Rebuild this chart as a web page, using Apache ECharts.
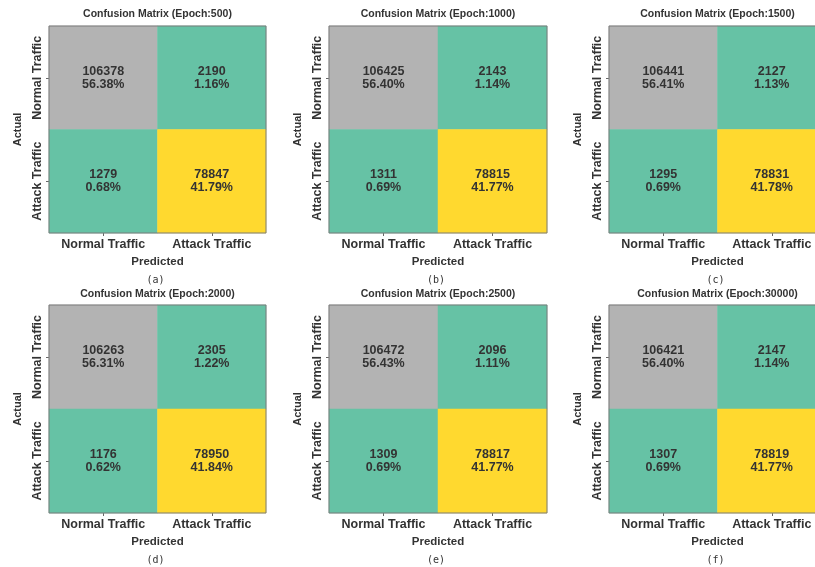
<!DOCTYPE html>
<html>
<head>
<meta charset="utf-8">
<title>Confusion Matrices by Epoch</title>
<script src="https://cdn.jsdelivr.net/npm/echarts@6/dist/echarts.min.js"></script>
<style>
  html, body { margin: 0; padding: 0; background: #ffffff; }
  #chart { width: 815px; height: 567px; }
</style>
</head>
<body>
<div id="chart"></div>
<script>
// Class labels shared by both axes
const classes = ['Normal Traffic', 'Attack Traffic'];

// Training epochs and subplot tags
const epochs = [500, 1000, 1500, 2000, 2500, 30000];
const panelTags = ['(a)', '(b)', '(c)', '(d)', '(e)', '(f)'];

// Confusion counts per epoch: [Normal->Normal, Normal->Attack, Attack->Normal, Attack->Attack]
const cm500   = [106378, 2190, 1279, 78847];
const cm1000  = [106425, 2143, 1311, 78815];
const cm1500  = [106441, 2127, 1295, 78831];
const cm2000  = [106263, 2305, 1176, 78950];
const cm2500  = [106472, 2096, 1309, 78817];
const cm30000 = [106421, 2147, 1307, 78819];
const matrices = [cm500, cm1000, cm1500, cm2000, cm2500, cm30000];

// Set2 qualitative palette (8 bins)
const set2 = ['#66c2a5', '#fc8d62', '#8da0cb', '#e78ac3', '#a6d854', '#ffd92f', '#e5c494', '#b3b3b3'];

// Panel placement
const colLeft = [49, 329, 609];
const colWidth = [217, 218, 217];
const rowTop = [26, 305];
const rowHeight = [207, 208];
const titleTop = [9, 289];
const tagTop = [275, 555];

const FONT = '"Liberation Sans", Arial, Helvetica, sans-serif';
const TEXT = '#333333';

function cellColor(v, lo, hi) {
  const t = (v - lo) / (hi - lo);
  const idx = Math.min(set2.length - 1, Math.floor(t * set2.length));
  return set2[idx];
}

const grid = [], xAxis = [], yAxis = [], series = [], title = [];

matrices.forEach((m, i) => {
  const r = Math.floor(i / 3), c = i % 3;
  const total = m.reduce((a, b) => a + b, 0);
  const lo = Math.min(...m), hi = Math.max(...m);
  const cx = colLeft[c] + colWidth[c] / 2;

  grid.push({
    left: colLeft[c], top: rowTop[r], width: colWidth[c], height: rowHeight[r],
    containLabel: false, outerBoundsMode: 'none',
    show: true, z: 10, backgroundColor: 'transparent',
    borderColor: '#7a7a7a', borderWidth: 1
  });

  xAxis.push({
    type: 'category', gridIndex: i, data: classes,
    name: 'Predicted', nameLocation: 'middle', nameGap: 23,
    nameTextStyle: { fontFamily: FONT, fontWeight: 'bold', fontSize: 11.5, color: TEXT },
    axisLine: { show: false },
    axisTick: { show: true, alignWithLabel: true, length: 3, lineStyle: { color: '#666' } },
    axisLabel: { interval: 0, hideOverlap: false, fontFamily: FONT, fontWeight: 'bold', fontSize: 12.5, color: TEXT, margin: 5 },
    splitLine: { show: false }
  });

  yAxis.push({
    type: 'category', gridIndex: i, data: classes, inverse: true,
    name: 'Actual', nameLocation: 'middle', nameGap: 26,
    nameTextStyle: { fontFamily: FONT, fontWeight: 'bold', fontSize: 11, color: TEXT },
    axisLine: { show: false },
    axisTick: { show: true, alignWithLabel: true, length: 3, lineStyle: { color: '#666' } },
    axisLabel: { interval: 0, hideOverlap: false, fontFamily: FONT, fontWeight: 'bold', fontSize: 12.5, color: TEXT, rotate: 90, margin: 5 },
    splitLine: { show: false }
  });

  const data = [];
  m.forEach((v, k) => {
    const x = k % 2, y = Math.floor(k / 2);
    data.push({
      value: [x, y, v],
      itemStyle: { color: cellColor(v, lo, hi) }
    });
  });

  series.push({
    type: 'heatmap', xAxisIndex: i, yAxisIndex: i, data: data,
    label: {
      show: true, fontFamily: FONT, fontWeight: 'bold', fontSize: 12.5,
      lineHeight: 13, color: TEXT,
      formatter: p => p.value[2] + '\n' + (p.value[2] / total * 100).toFixed(2) + '%'
    },
    emphasis: { disabled: true }
  });

  title.push({
    text: 'Confusion Matrix (Epoch:' + epochs[i] + ')',
    left: cx, top: titleTop[r], textAlign: 'center', padding: 0,
    textStyle: { fontFamily: FONT, fontWeight: 'bold', fontSize: 10.5, color: TEXT }
  });
  title.push({
    text: panelTags[i],
    left: cx - 2, top: tagTop[r], textAlign: 'center', padding: 0,
    textStyle: { fontFamily: '"DejaVu Sans Mono", monospace', fontWeight: 'normal', fontSize: 10, color: TEXT }
  });
});

const chart = echarts.init(document.getElementById('chart'), null, { renderer: 'canvas' });
chart.setOption({
  animation: false,
  backgroundColor: '#ffffff',
  title, grid, xAxis, yAxis, series
});
</script>
</body>
</html>
